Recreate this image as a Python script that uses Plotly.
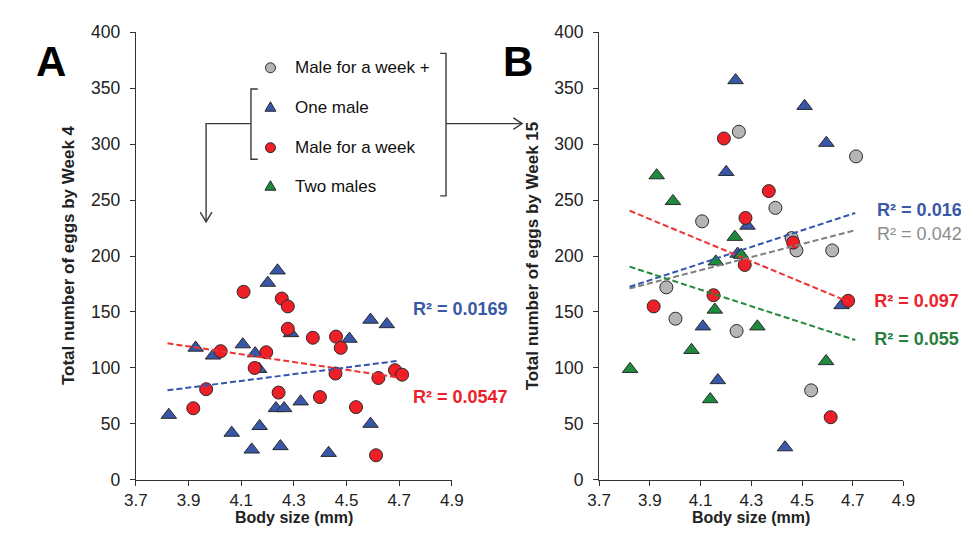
import plotly.graph_objects as go

W, H = 973, 539

# ---------------- data ----------------
# Panel A (Week 4)
A_one_male_x = [3.825, 3.927, 3.993, 4.106, 4.153, 4.168, 4.201, 4.238, 4.289, 4.064, 4.14,
                4.17, 4.232, 4.263, 4.249, 4.326, 4.432, 4.511, 4.591, 4.653, 4.591]
A_one_male_y = [58, 118, 111, 121, 113, 99, 176, 187, 131, 42, 27,
                48, 64, 64, 30, 70, 24, 126, 143, 139, 50]
A_week_x = [3.918, 3.967, 4.022, 4.109, 4.254, 4.277, 4.277, 4.195, 4.151, 4.242,
            4.372, 4.399, 4.46, 4.478, 4.458, 4.536, 4.621, 4.612, 4.684, 4.711]
A_week_y = [64, 81, 115, 168, 162, 155, 135, 114, 100, 78,
            127, 74, 128, 118, 95, 65, 91, 22, 98, 94]
A_trend_one_x = [3.82, 4.70]
A_trend_one_y = [80, 106.5]
A_trend_week_x = [3.82, 4.71]
A_trend_week_y = [122, 91]

# Panel B (Week 15)
B_plus_x = [4.251, 4.713, 4.395, 4.106, 4.459, 4.478, 4.619, 3.965, 4.001, 4.242, 4.536]
B_plus_y = [311, 289, 243, 231, 216, 205, 205, 172, 144, 133, 80]
B_one_male_x = [4.238, 4.51, 4.596, 4.201, 4.285, 4.246, 4.109, 4.168, 4.433, 4.656]
B_one_male_y = [357, 334, 301, 275, 227, 202, 137, 89, 29, 156]
B_two_x = [3.927, 3.991, 4.235, 4.26, 4.16, 4.156, 4.324, 4.064, 3.822, 4.138, 4.595]
B_two_y = [272, 249, 217, 201, 195, 152, 137, 116, 99, 72, 106]
B_week_x = [4.192, 4.369, 4.277, 4.465, 4.274, 3.915, 4.151, 4.682, 4.613]
B_week_y = [305, 258, 234, 212, 192, 155, 165, 160, 56]
B_trend_x = [3.82, 4.71]
B_trend_one_y = [172.5, 238.5]
B_trend_plus_y = [171, 223]
B_trend_two_y = [190.5, 125]
B_trend_week_x = [3.82, 4.68]
B_trend_week_y = [240.5, 159.5]

legend_labels = ["Male for a week +", "One male", "Male for a week", "Two males"]
r2_A = ["R² = 0.0169", "R² = 0.0547"]
r2_B = ["R² = 0.0169", "R² = 0.0425", "R² = 0.097", "R² = 0.055"]

x_ticks = [3.7, 3.9, 4.1, 4.3, 4.5, 4.7, 4.9]
y_ticks = [0, 50, 100, 150, 200, 250, 300, 350, 400]

# ---------------- styles ----------------
GRAY, BLUE, RED, GREEN = "#b5b5b5", "#3857a8", "#ee1f26", "#1f8a3e"
LBL_BLUE, LBL_GRAY, LBL_RED, LBL_GREEN = "#3a58a8", "#8c8c8c", "#ee2029", "#2a7e3c"
EDGE = "#2a2a2a"
FONT = "Liberation Sans, Arial, sans-serif"


def fx(px):
    return px / W


def fy(py):
    return 1 - py / H


fig = go.Figure()


def pts(x, y, color, symbol, axis):
    size = 13 if symbol == "circle" else 13.5
    fig.add_trace(go.Scatter(
        x=x, y=y, mode="markers", xaxis=axis[0], yaxis=axis[1],
        marker=dict(color=color, symbol=symbol, size=size, line=dict(color=EDGE, width=1)),
        showlegend=False, cliponaxis=False, hoverinfo="skip"))


def trend(x, y, color, axis):
    fig.add_trace(go.Scatter(
        x=x, y=y, mode="lines", xaxis=axis[0], yaxis=axis[1],
        line=dict(color=color, width=2, dash="6px,3px"),
        showlegend=False, hoverinfo="skip"))


axA = ("x", "y")
axB = ("x2", "y2")

pts(A_one_male_x, A_one_male_y, BLUE, "triangle-up", axA)
pts(A_week_x, A_week_y, RED, "circle", axA)
trend(A_trend_week_x, A_trend_week_y, "#ee3333", axA)
trend(A_trend_one_x, A_trend_one_y, "#3355b0", axA)

pts(B_plus_x, B_plus_y, GRAY, "circle", axB)
pts(B_one_male_x, B_one_male_y, BLUE, "triangle-up", axB)
pts(B_two_x, B_two_y, GREEN, "triangle-up", axB)
pts(B_week_x, B_week_y, RED, "circle", axB)
trend(B_trend_x, B_trend_plus_y, "#808080", axB)
trend(B_trend_x, B_trend_one_y, "#3355b0", axB)
trend(B_trend_x, B_trend_two_y, "#22893c", axB)
trend(B_trend_week_x, B_trend_week_y, "#ee3333", axB)

# R^2 labels of panel B: placed on a full-page overlay (pixel units) and clipped
# at the right page edge, as in the original figure
r2_B_px = [887, 887, 884, 884]
r2_B_py = [209, 234, 304, 343]
r2_B_colors = [LBL_BLUE, LBL_GRAY, LBL_RED, LBL_GREEN]
r2_B_bold = [True, False, True, True]
fig.add_trace(go.Scatter(
    x=r2_B_px, y=r2_B_py, mode="text", xaxis="x3", yaxis="y3",
    text=[f"<b>{t}</b>" if b else t for t, b in zip(r2_B, r2_B_bold)],
    textposition="middle right",
    textfont=dict(family=FONT, size=18, color=r2_B_colors),
    showlegend=False, cliponaxis=True, hoverinfo="skip"))

xcommon = dict(range=[3.7, 4.9], tickvals=x_ticks, ticktext=[f"{v:.1f}" for v in x_ticks],
               showline=True, linecolor="#333", linewidth=1.3, ticks="outside", ticklen=5,
               tickcolor="#333", showgrid=False, zeroline=False,
               tickfont=dict(family=FONT, size=17, color="#222"), fixedrange=True)
ycommon = dict(range=[0, 400], tickvals=y_ticks, showline=True, linecolor="#333", linewidth=1.3,
               ticks="outside", ticklen=5, tickcolor="#333", showgrid=False, zeroline=False,
               tickfont=dict(family=FONT, size=17.5, color="#222"), ticklabelstandoff=6,
               fixedrange=True)

ydom = [fy(488), fy(23)]
fig.update_layout(
    width=W, height=H, margin=dict(l=0, r=0, t=0, b=0),
    paper_bgcolor="white", plot_bgcolor="rgba(0,0,0,0)", showlegend=False,
    xaxis=dict(domain=[fx(127), fx(451)], anchor="y", **xcommon),
    yaxis=dict(domain=ydom, anchor="x", **ycommon),
    xaxis2=dict(domain=[fx(602), fx(914)], anchor="y2", **xcommon),
    yaxis2=dict(domain=ydom, anchor="x2", **ycommon),
    xaxis3=dict(domain=[0, 1], range=[0, W], visible=False, anchor="y3", fixedrange=True),
    yaxis3=dict(domain=[0, 1], range=[H, 0], visible=False, anchor="x3", fixedrange=True),
)

ann = []


def text(px, py, s, size=17, color="#222", bold=False, xanchor="center", angle=0):
    ann.append(dict(x=fx(px), y=fy(py), xref="paper", yref="paper", showarrow=False,
                    text=f"<b>{s}</b>" if bold else s, textangle=angle,
                    font=dict(family=FONT, size=size, color=color),
                    xanchor=xanchor, yanchor="middle"))


# panel letters
text(40, 54, "A", size=42, color="#000", bold=True)
text(519, 54, "B", size=42, color="#000", bold=True)
# axis titles
text(289, 527, "Body size (mm)", size=16, bold=True)
text(758, 527, "Body size (mm)", size=16, bold=True)
text(58, 255, "Total number of eggs by Week 4", size=17, bold=True, angle=-90)
text(534, 255, "Total number of eggs by Week 15", size=17, bold=True, angle=-90)
# R^2 labels panel A
text(409, 311, r2_A[0], size=18, color=LBL_BLUE, bold=True, xanchor="left")
text(409, 402, r2_A[1], size=18, color=LBL_RED, bold=True, xanchor="left")

# legend text
leg_rows = [60, 101, 143, 183]
leg_colors = [GRAY, BLUE, RED, GREEN]
leg_symbols = ["circle", "triangle", "circle", "triangle"]
for lab, ry in zip(legend_labels, leg_rows):
    text(288, ry, lab, size=17, color="#111", xanchor="left")

shapes = []
for ry, col, sym in zip(leg_rows, leg_colors, leg_symbols):
    if sym == "circle":
        shapes.append(dict(type="circle", xref="paper", yref="paper", xsizemode="pixel",
                           ysizemode="pixel", xanchor=fx(265), yanchor=fy(ry),
                           x0=-5, x1=5, y0=-5, y1=5, fillcolor=col,
                           line=dict(color=EDGE, width=1)))
    else:
        shapes.append(dict(type="path", xref="paper", yref="paper", xsizemode="pixel",
                           ysizemode="pixel", xanchor=fx(265), yanchor=fy(ry),
                           path="M-5.5,-4 L5.5,-4 L0,5.5 Z", fillcolor=col,
                           line=dict(color=EDGE, width=1)))


def pline(points):
    d = "M " + " L ".join(f"{fx(a):.5f},{fy(b):.5f}" for a, b in points)
    shapes.append(dict(type="path", xref="paper", yref="paper", path=d,
                       line=dict(color="#3a3a3a", width=1.4)))


# left bracket + down arrow
pline([(252, 82), (245, 82), (245, 155), (252, 155)])
pline([(245, 118), (199, 118), (199, 220)])
pline([(193, 210), (199, 220), (205, 210)])
# right bracket + right arrow
pline([(439, 45), (445, 45), (445, 193), (439, 193)])
pline([(445, 118), (523, 118)])
pline([(514, 112), (523, 118), (514, 124)])

fig.update_layout(annotations=ann, shapes=shapes)
fig.write_html("out.html")
